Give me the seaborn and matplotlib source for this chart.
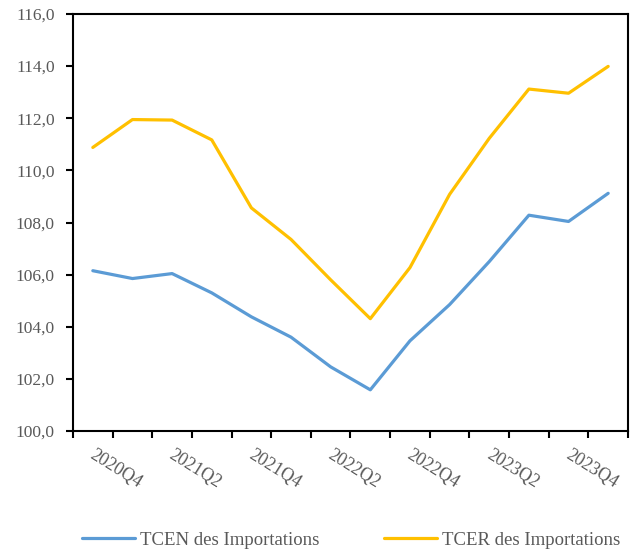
import matplotlib
matplotlib.use("Agg")
import matplotlib.pyplot as plt
import matplotlib.transforms as mtransforms
import seaborn as sns
import pandas as pd
import numpy as np

# quarters 2020Q4 .. 2024Q1
quarters = ["2020Q4", "2021Q1", "2021Q2", "2021Q3", "2021Q4", "2022Q1", "2022Q2",
            "2022Q3", "2022Q4", "2023Q1", "2023Q2", "2023Q3", "2023Q4", "2024Q1"]
tcen = [106.15, 105.85, 106.04, 105.3, 104.38, 103.6, 102.46,
        101.58, 103.46, 104.85, 106.5, 108.28, 108.04, 109.12]
tcer = [110.88, 111.95, 111.93, 111.17, 108.56, 107.35, 105.8,
        104.31, 106.27, 109.08, 111.23, 113.12, 112.96, 113.99]
series_names = ["TCEN des Importations", "TCER des Importations"]
series_colors = ["#5B9BD5", "#FFC000"]

df = pd.DataFrame({
    "quarter": quarters * 2,
    "pos": list(range(len(quarters))) * 2,
    "value": tcen + tcer,
    "serie": [series_names[0]] * len(quarters) + [series_names[1]] * len(quarters),
})

sns.set_style("white")
plt.rcParams["font.family"] = ["Liberation Serif", "DejaVu Serif"]
grey = "#595959"

fig = plt.figure(figsize=(6.39, 5.54), dpi=100)
ax = fig.add_axes([73 / 639, 123 / 554, 555 / 639, 417 / 554])

sns.lineplot(data=df, x="pos", y="value", hue="serie", hue_order=series_names,
             palette=series_colors, linewidth=2.3, ax=ax, legend=False)

ax.set_xlim(-0.5, len(quarters) - 0.5)
ax.set_ylim(100, 116)
ax.set_yticks(np.arange(100, 116.1, 2))
ax.set_yticklabels([f"{v:.1f}".replace(".", ",") for v in np.arange(100, 116.1, 2)])

# labels every other quarter, tick marks between categories
lab_pos = list(range(0, len(quarters), 2))
ax.set_xticks(lab_pos)
ax.set_xticklabels([quarters[i] for i in lab_pos], rotation=-32, ha="left",
                   va="top", rotation_mode="anchor")
ax.set_xticks(np.arange(-0.5, len(quarters), 1), minor=True)
ax.tick_params(axis="x", which="major", length=0, pad=11, labelsize=13, labelcolor=grey)
ax.tick_params(axis="x", which="minor", length=5, width=1.5, color="black", direction="out", bottom=True)
ax.tick_params(axis="y", length=5, width=1.5, color="black", direction="out", left=True,
               labelsize=12.5, labelcolor=grey, pad=8)
shift = mtransforms.ScaledTranslation(3 / 100, 0, fig.dpi_scale_trans)
for lab in ax.get_xticklabels():
    lab.set_transform(lab.get_transform() + shift)
ax.set_xlabel("")
ax.set_ylabel("")

for s in ax.spines.values():
    s.set_visible(True)
    s.set_color("black")
    s.set_linewidth(1.5)

handles = [plt.Line2D([], [], color=c, linewidth=2.3) for c in series_colors]
leg = fig.legend(handles, series_names, loc="center", bbox_to_anchor=(0.55, 1 - 540 / 554),
                 ncol=2, frameon=False, fontsize=13.5, handlelength=2.8,
                 handletextpad=0.3, columnspacing=3.45)
for t in leg.get_texts():
    t.set_color(grey)

fig.savefig("out.png", dpi=100)
